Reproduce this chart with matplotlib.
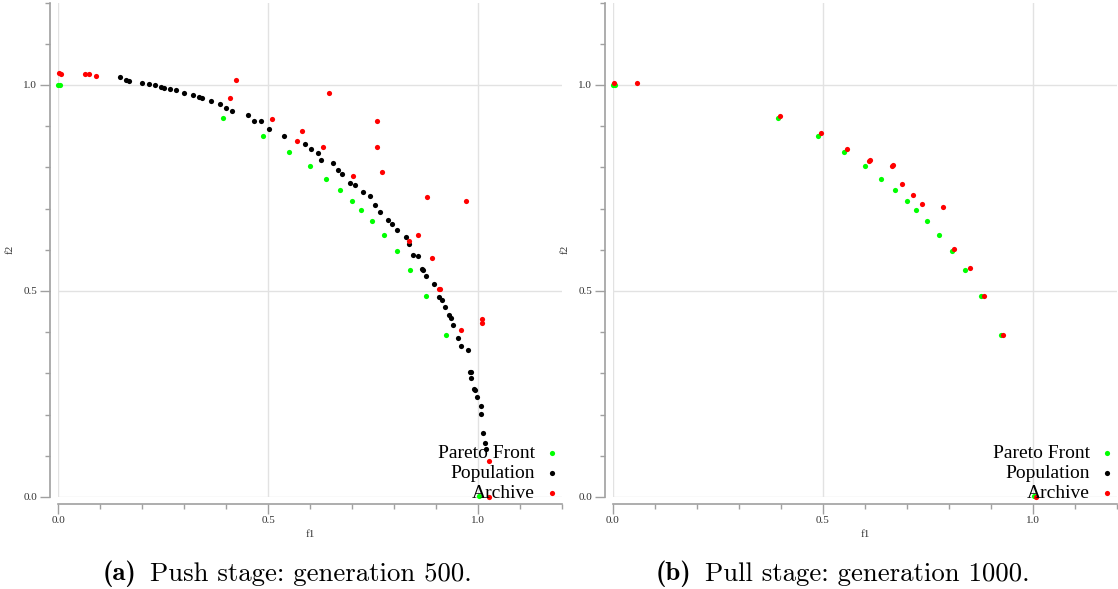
#!/usr/bin/env python

import numpy as np
import matplotlib.pyplot as plt
from matplotlib.ticker import MultipleLocator

plt.rc('font', family='Liberation Serif')

# true Pareto front (same in both panels)
pf_f1 = [0.0, 0.005, 0.393, 0.489, 0.551, 0.599, 0.639, 0.672, 0.700, 0.721,
         0.747, 0.776, 0.806, 0.839, 0.877, 0.923, 1.002]
pf_f2 = [1.0, 1.0, 0.921, 0.875, 0.837, 0.803, 0.773, 0.744, 0.718, 0.697,
         0.669, 0.637, 0.597, 0.550, 0.487, 0.392, 0.003]

# push stage, generation 500
pop_a_f1 = [0.148, 0.161, 0.168, 0.201, 0.216, 0.231, 0.246, 0.252, 0.267, 0.281,
            0.301, 0.321, 0.336, 0.342, 0.364, 0.386, 0.401, 0.414, 0.453, 0.467,
            0.484, 0.502, 0.537, 0.587, 0.602, 0.620, 0.625, 0.654, 0.667, 0.677,
            0.695, 0.708, 0.725, 0.742, 0.754, 0.767, 0.785, 0.796, 0.806, 0.829,
            0.835, 0.846, 0.856, 0.867, 0.870, 0.877, 0.895, 0.907, 0.914, 0.921,
            0.931, 0.935, 0.941, 0.952, 0.960, 0.975, 0.981, 0.983, 0.984, 0.990,
            0.994, 0.998, 1.006, 1.007, 1.013, 1.016, 1.019]
pop_a_f2 = [1.019, 1.012, 1.010, 1.006, 1.003, 1.001, 0.995, 0.993, 0.990, 0.987,
            0.981, 0.975, 0.970, 0.969, 0.960, 0.953, 0.945, 0.936, 0.926, 0.913,
            0.913, 0.893, 0.875, 0.856, 0.845, 0.834, 0.817, 0.811, 0.794, 0.785,
            0.763, 0.758, 0.740, 0.730, 0.709, 0.691, 0.672, 0.662, 0.647, 0.630,
            0.615, 0.587, 0.586, 0.554, 0.550, 0.537, 0.517, 0.485, 0.479, 0.461,
            0.442, 0.434, 0.417, 0.387, 0.366, 0.356, 0.303, 0.303, 0.290, 0.263,
            0.259, 0.243, 0.222, 0.201, 0.155, 0.130, 0.116]
arc_a_f1 = [0.003, 0.006, 0.064, 0.073, 0.090, 0.410, 0.423, 0.510, 0.569, 0.582,
            0.631, 0.645, 0.703, 0.760, 0.760, 0.772, 0.836, 0.856, 0.879, 0.890,
            0.907, 0.910, 0.959, 0.972, 1.010, 1.010, 1.025, 1.026]
arc_a_f2 = [1.028, 1.027, 1.026, 1.027, 1.023, 0.968, 1.011, 0.917, 0.865, 0.888,
            0.850, 0.981, 0.779, 0.912, 0.849, 0.790, 0.621, 0.635, 0.729, 0.581,
            0.505, 0.505, 0.405, 0.718, 0.432, 0.422, 0.087, 0.001]

# pull stage, generation 1000
pop_b_f1 = []
pop_b_f2 = []
arc_b_f1 = [0.002, 0.058, 0.397, 0.496, 0.557, 0.610, 0.612, 0.664, 0.666, 0.687,
            0.715, 0.735, 0.786, 0.811, 0.850, 0.883, 0.929, 1.007]
arc_b_f2 = [1.005, 1.004, 0.925, 0.884, 0.844, 0.815, 0.818, 0.803, 0.805, 0.759,
            0.732, 0.710, 0.703, 0.601, 0.556, 0.489, 0.394, 0.0]

panels = [
    (0.0519, pop_a_f1, pop_a_f2, arc_a_f1, arc_a_f2, '(a)', 'Push stage: generation 500.'),
    (0.5483, pop_b_f1, pop_b_f2, arc_b_f1, arc_b_f2, '(b)', 'Pull stage: generation 1000.'),
]

fig = plt.figure(figsize=(11.18, 5.89), dpi=100)

for left, p1, p2, a1, a2, tag, caption in panels:
    ax = fig.add_axes([left, 0.1562, 0.4508, 0.8394])
    ax.set_xlim(0, 1.2)
    ax.set_ylim(0, 1.2)
    ms = 14
    ax.scatter(pf_f1, pf_f2, s=ms, c='#00ff00', linewidths=0, label='Pareto Front',
               clip_on=False, zorder=3)
    ax.scatter(p1, p2, s=ms, c='black', linewidths=0, label='Population',
               clip_on=False, zorder=3)
    ax.scatter(a1, a2, s=ms, c='#ff0000', linewidths=0, label='Archive',
               clip_on=False, zorder=3)

    for s in ['top', 'right']:
        ax.spines[s].set_visible(False)
    ax.spines['left'].set_position(('outward', 6))
    ax.spines['bottom'].set_position(('outward', 5))
    for s in ['left', 'bottom']:
        ax.spines[s].set_color('#a0a0a0')
        ax.spines[s].set_linewidth(1.2)

    ax.xaxis.set_major_locator(MultipleLocator(0.5))
    ax.yaxis.set_major_locator(MultipleLocator(0.5))
    ax.xaxis.set_minor_locator(MultipleLocator(0.1))
    ax.yaxis.set_minor_locator(MultipleLocator(0.1))
    ax.tick_params(which='major', length=7, width=1, color='#a0a0a0',
                   labelsize=8, pad=2, labelcolor='#333333')
    ax.tick_params(which='minor', length=3.5, width=1, color='#a0a0a0')
    ax.grid(True, which='major', color='#e2e2e2', linewidth=1)
    ax.set_axisbelow(True)

    ax.set_xlabel('f1', fontsize=8, labelpad=3, color='#333333')
    ax.set_ylabel('f2', fontsize=8, labelpad=6, color='#333333')

    ax.legend(loc='lower right', bbox_to_anchor=(1.0, -0.014), frameon=False,
              markerfirst=False, fontsize=14, labelspacing=0.12,
              handlelength=0.8, handletextpad=0.5, borderaxespad=0,
              borderpad=0.1)

    fig.text(left + 0.070, 0.026, tag, ha='right', va='center',
             fontsize=19.3, family='cmb10')
    fig.text(left + 0.082, 0.026, caption, ha='left', va='center',
             fontsize=19.3, family='cmr10')

plt.savefig('out.png', dpi=100)
